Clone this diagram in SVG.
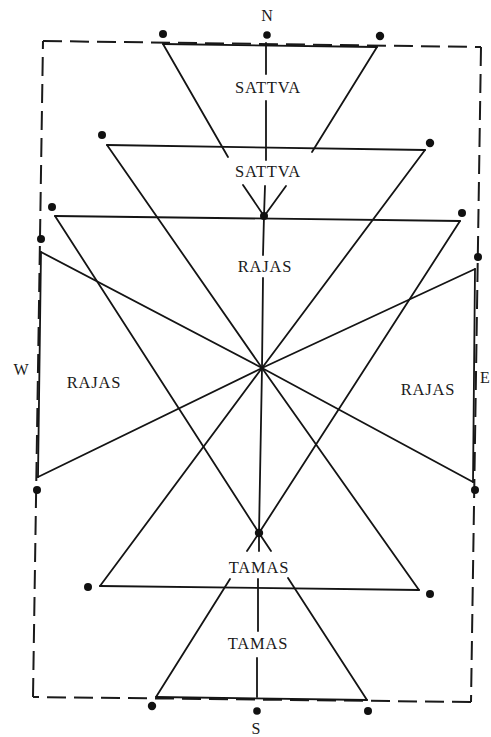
<svg xmlns="http://www.w3.org/2000/svg" width="491" height="737" viewBox="0 0 491 737">
<style>
.ln{stroke:#141414;stroke-width:1.8;fill:none;stroke-linecap:round}
.dash{stroke:#1a1a1a;stroke-width:2;fill:none;stroke-dasharray:19 8}
.dot{fill:#111}
.lbl{font-family:"Liberation Serif","Times New Roman",serif;font-size:16.5px;fill:#1a1a1a;text-anchor:middle;letter-spacing:0.8px}
.dir{font-family:"Liberation Serif","Times New Roman",serif;font-size:16px;fill:#1a1a1a;text-anchor:middle}
</style>
<rect width="491" height="737" fill="#fff"/>
<g id="border">
<path class="dash" d="M43,41 L481,47"/>
<path class="dash" d="M481,47 L471,702"/>
<path class="dash" d="M471,702 L33,697"/>
<path class="dash" d="M33,697 L43,41"/>
</g>
<g id="connectors">
<path class="ln" d="M163,44 L377,47"/>
<path class="ln" d="M163,44 L228,157 M243,185 L264,216"/>
<path class="ln" d="M377,47 L312,152 M286,186 L265,215"/>
<path class="ln" d="M107,145 L425,150"/>
<path class="ln" d="M107,145 L262,368 L419,590"/>
<path class="ln" d="M425,150 L262,368 L100,586"/>
<path class="ln" d="M100,586 L419,590"/>
<path class="ln" d="M55,216 L460,221"/>
<path class="ln" d="M55,216 L259,533 L271,551 M288,578 L367,700"/>
<path class="ln" d="M460,221 L259,533 L247,551 M230,579 L156,697"/>
<path class="ln" d="M156,697 L367,700"/>
<path class="ln" d="M41,252 L38,477"/>
<path class="ln" d="M41,252 L262,368 L473,482"/>
<path class="ln" d="M38,477 L262,368 L475,269"/>
<path class="ln" d="M475,269 L473,482"/>
<path class="ln" d="M266,43 L266,74 M266,101 L266,160 M265,186 L264,216 L263,255 M263,278 L262,368 L259,533 L259,551 M258,579 L258,631 M257,658 L257,697"/>
</g>
<g id="points">
<circle class="dot" cx="163" cy="34" r="4"/>
<circle class="dot" cx="267" cy="35" r="3.8"/>
<circle class="dot" cx="380" cy="36" r="4.2"/>
<circle class="dot" cx="102" cy="135" r="4"/>
<circle class="dot" cx="430" cy="143" r="4.2"/>
<circle class="dot" cx="52" cy="207" r="4"/>
<circle class="dot" cx="462" cy="213" r="4"/>
<circle class="dot" cx="41" cy="239" r="4"/>
<circle class="dot" cx="37" cy="490" r="4"/>
<circle class="dot" cx="478" cy="257" r="4"/>
<circle class="dot" cx="475" cy="490" r="4"/>
<circle class="dot" cx="88" cy="587" r="4"/>
<circle class="dot" cx="430" cy="594" r="4"/>
<circle class="dot" cx="152" cy="706" r="4.2"/>
<circle class="dot" cx="257" cy="711" r="3.8"/>
<circle class="dot" cx="368" cy="711" r="4"/>
<circle class="dot" cx="264" cy="216" r="4"/>
<circle class="dot" cx="259" cy="533" r="4.2"/>
</g>
<g id="sattva-top"><text class="lbl" x="268" y="93">SATTVA</text></g>
<g id="sattva-2"><text class="lbl" x="268" y="177">SATTVA</text></g>
<g id="rajas-top"><text class="lbl" x="265" y="272">RAJAS</text></g>
<g id="rajas-west"><text class="lbl" x="94" y="388">RAJAS</text></g>
<g id="rajas-east"><text class="lbl" x="428" y="395">RAJAS</text></g>
<g id="tamas-1"><text class="lbl" x="259" y="573">TAMAS</text></g>
<g id="tamas-2"><text class="lbl" x="258" y="649">TAMAS</text></g>
<g id="dir-n"><text class="dir" x="267" y="21">N</text></g>
<g id="dir-s"><text class="dir" x="256" y="734">S</text></g>
<g id="dir-w"><text class="dir" x="21" y="375">W</text></g>
<g id="dir-e"><text class="dir" x="480" y="383" style="text-anchor:start">E</text></g>
</svg>
